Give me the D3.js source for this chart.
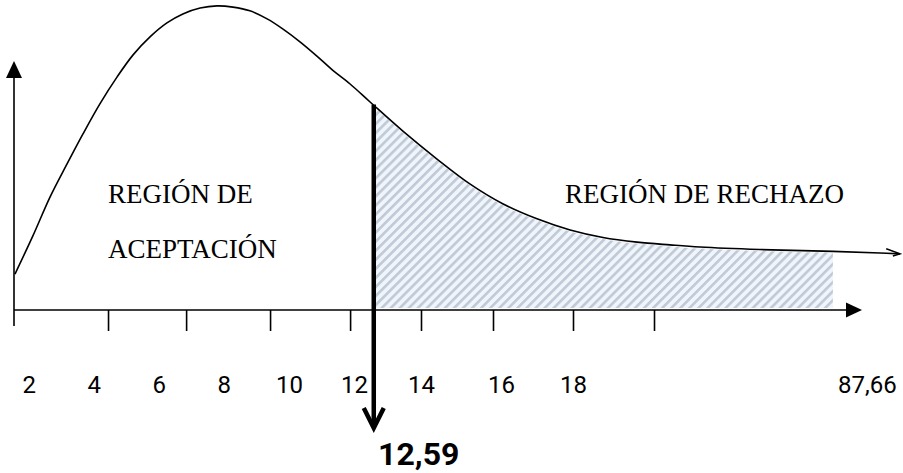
<!DOCTYPE html>
<html>
  <head>
    <meta charset="utf-8">
    <script src="https://d3js.org/d3.v7.min.js"></script>
    <style>
      body { margin: 0; background: #fff; }
      .lbl { font-family: Roboto, "Liberation Sans", sans-serif; }
      .region { font-family: "Liberation Serif", "Times New Roman", serif; }
    </style>
  </head>
  <body>
    <div id="graph"></div>
  </body>
  <script>
    var width = 903, height = 473;

    // Chi-square style curve (x in chart units, y in % of height)
    var curveX = [1.58, 2.13, 2.66, 3.18, 3.67, 4.19, 4.72, 5.21, 5.73, 6.25, 6.74, 7.27, 7.79, 8.28,
                  8.80, 9.33, 9.82, 10.34, 10.86, 11.35, 11.88,
                  12.48, 13.46, 14.4, 15.23, 16.06, 17.0, 17.92, 25.1, 33.2, 41.0, 48.1, 62.3, 79.6, 90.8, 95.5];
    var curveY = [11.6, 23.9, 36.5, 47.1, 56.8, 66.5, 75.2, 82.3, 88.1, 92.6, 95.5, 97.4, 98.1, 97.7,
                  96.5, 93.9, 90.6, 86.5, 81.9, 77.3, 72.9,
                  67.1, 57.7, 48.7, 40.6, 34.2, 29.4, 25.8, 23.4, 21.9, 21.0, 20.3, 19.5, 18.9, 18.4, 18.1];

    // axis tick marks and tick labels
    var tickValues = [1.55, 4.44, 6.84, 9.42, 11.88, 14, 15.8, 18, 37.2];
    var labelValues = [2, 4, 6, 8, 10, 12, 14, 16, 18, 87.66];

    var criticalValue = 12.59;
    var hatchEnd = 79.6;
    var axisStart = 1.55, axisEnd = 86.5, yAxisTop = 80;

    // the drawing is schematic: the x axis is stretched piecewise
    var x = d3.scaleLinear()
              .domain([1.55, 12, 14, 16, 18, 86.5])
              .range([14, 354, 421, 501, 573, 862]);
    var y = d3.scaleLinear().domain([0, 100]).range([310, 0]);

    var svg = d3.select("#graph")
                .append("svg")
                  .attr("width", width)
                  .attr("height", height);

    var defs = svg.append("defs");

    // diagonal hatch
    var pat = defs.append("pattern")
        .attr("id", "hatch")
        .attr("patternUnits", "userSpaceOnUse")
        .attr("width", 6.4)
        .attr("height", 6.4)
        .attr("patternTransform", "rotate(45)");
    pat.append("rect").attr("width", 6.4).attr("height", 6.4).attr("fill", "#eff5fa");
    pat.append("rect").attr("width", 2.6).attr("height", 6.4).attr("fill", "#c0c9d6");

    defs.append("clipPath")
        .attr("id", "rejClip")
      .append("rect")
        .attr("x", x(criticalValue))
        .attr("y", 0)
        .attr("width", x(hatchEnd) - x(criticalValue))
        .attr("height", y(0) - 2);

    // open arrow at the end of the curve
    defs.append("marker")
        .attr("id", "curveArrow")
        .attr("viewBox", "-14 -6 16 12")
        .attr("refX", 0).attr("refY", 0)
        .attr("markerWidth", 16).attr("markerHeight", 12)
        .attr("markerUnits", "userSpaceOnUse")
        .attr("orient", "auto")
      .append("path")
        .attr("d", "M-14,-4.5 L0,0 L-7,2.5")
        .attr("fill", "none")
        .attr("stroke", "#000")
        .attr("stroke-width", 1.5);

    var pts = curveX.map(function(d, i) { return [d, curveY[i]]; });

    // rejection region
    var area = d3.area()
                 .x(function(d) { return x(d[0]); })
                 .y0(y(0))
                 .y1(function(d) { return y(d[1]) + 1.5; })
                 .curve(d3.curveCatmullRom.alpha(0.5));

    svg.append("path")
       .datum(pts)
       .attr("d", area)
       .attr("fill", "url(#hatch)")
       .attr("clip-path", "url(#rejClip)");

    // curve
    var line = d3.line()
                 .x(function(d) { return x(d[0]); })
                 .y(function(d) { return y(d[1]); })
                 .curve(d3.curveCatmullRom.alpha(0.5));

    svg.append("path")
       .datum(pts)
       .attr("d", line)
       .attr("fill", "none")
       .attr("stroke", "#000")
       .attr("stroke-width", 1.6)
       .attr("marker-end", "url(#curveArrow)");

    // x axis line + arrow
    svg.append("line")
       .attr("x1", x(axisStart)).attr("x2", x(axisEnd) - 14)
       .attr("y1", y(0)).attr("y2", y(0))
       .attr("stroke", "#000").attr("stroke-width", 1.6);
    svg.append("path")
       .attr("d", "M" + x(axisEnd) + "," + y(0) + " l-16,-7.5 l0,15 z")
       .attr("fill", "#000");

    // y axis line + arrow
    svg.append("line")
       .attr("x1", x(axisStart)).attr("x2", x(axisStart))
       .attr("y1", y(0) + 16).attr("y2", y(yAxisTop) + 14)
       .attr("stroke", "#000").attr("stroke-width", 1.6);
    svg.append("path")
       .attr("d", "M" + x(axisStart) + "," + (y(yAxisTop) - 1) + " l-8,17 l16,0 z")
       .attr("fill", "#000");

    // tick marks
    var tickAxis = d3.axisBottom(x)
                     .tickValues(tickValues.slice(1))
                     .tickSize(21)
                     .tickSizeOuter(0)
                     .tickFormat("");
    var tg = svg.append("g")
                .attr("transform", "translate(0," + y(0) + ")")
                .call(tickAxis);
    tg.select(".domain").remove();
    tg.selectAll(".tick line").attr("stroke", "#000").attr("stroke-width", 1.6);

    // tick labels
    var labelAxis = d3.axisBottom(x)
                      .tickValues(labelValues)
                      .tickSize(0)
                      .tickPadding(66)
                      .tickFormat(function(d) { return String(d).replace(".", ","); });
    var lg = svg.append("g")
                .attr("transform", "translate(0," + y(0) + ")")
                .call(labelAxis);
    lg.select(".domain").remove();
    lg.selectAll("text")
      .attr("class", "lbl")
      .attr("font-size", 24)
      .attr("font-family", "Roboto, 'Liberation Sans', sans-serif")
      .attr("fill", "#000");

    // critical value line with arrow
    var cx = x(criticalValue);
    svg.append("line")
       .attr("x1", cx).attr("x2", cx)
       .attr("y1", y(curveY[21] - 0.8)).attr("y2", 427)
       .attr("stroke", "#000").attr("stroke-width", 4.5);
    svg.append("path")
       .attr("d", "M" + (cx - 10) + ",408 L" + cx + ",428 L" + (cx + 10) + ",408")
       .attr("fill", "none")
       .attr("stroke", "#000")
       .attr("stroke-width", 4.5);

    svg.append("text")
       .attr("class", "lbl")
       .attr("x", cx + 45)
       .attr("y", 465)
       .attr("text-anchor", "middle")
       .attr("font-size", 32)
       .attr("font-weight", "bold")
       .text(String(criticalValue).replace(".", ","));

    // region names
    svg.append("text")
       .attr("class", "region")
       .attr("x", 108).attr("y", 203)
       .attr("font-size", 27)
       .text("REGIÓN DE");
    svg.append("text")
       .attr("class", "region")
       .attr("x", 108).attr("y", 258)
       .attr("font-size", 27)
       .text("ACEPTACIÓN");
    svg.append("text")
       .attr("class", "region")
       .attr("x", 565).attr("y", 203)
       .attr("font-size", 27)
       .text("REGIÓN DE RECHAZO");
  </script>
</html>
